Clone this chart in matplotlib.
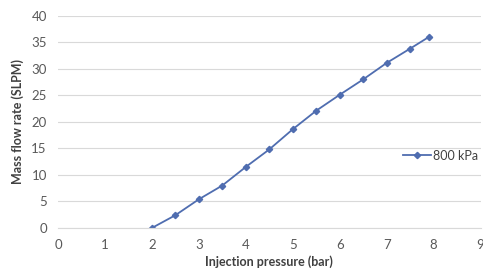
import matplotlib
matplotlib.use("Agg")
import matplotlib.pyplot as plt

# Data
pressure_bar = [2.0, 2.5, 3.0, 3.5, 4.0, 4.5, 5.0, 5.5, 6.0, 6.5, 7.0, 7.5, 7.9]
flow_slpm = [0.0, 2.4, 5.4, 8.0, 11.5, 14.8, 18.6, 22.1, 25.1, 28.0, 31.1, 33.8, 36.0]
series_label = "800 kPa"

x_ticks = list(range(0, 10))
y_ticks = list(range(0, 45, 5))

plt.rcParams['font.family'] = ['Lato', 'DejaVu Sans']

fig = plt.figure(figsize=(4.83, 2.78), dpi=100)
ax = fig.add_axes([0.12, 0.18, 0.875, 0.7635])

ax.plot(pressure_bar, flow_slpm, color='#4F6DB0', linewidth=1.3,
        marker='D', markersize=3.2, label=series_label)

ax.set_xlim(0, 9)
ax.set_ylim(0, 40)
ax.set_xticks(x_ticks)
ax.set_yticks(y_ticks)

ax.grid(True, axis='y', color='#D9D9D9', linewidth=0.8)
ax.set_axisbelow(True)
for s in ['left', 'right', 'top']:
    ax.spines[s].set_visible(False)
ax.spines['bottom'].set_color('#D9D9D9')
ax.tick_params(length=0, labelsize=9.5, colors='#595959')
ax.tick_params(axis='x', pad=8)
ax.tick_params(axis='y', pad=8)

ax.set_xlabel('Injection pressure (bar)', fontsize=9, fontweight='bold', color='#404040', labelpad=3)
ax.set_ylabel('Mass flow rate (SLPM)', fontsize=9, fontweight='bold', color='#404040', labelpad=5)

ax.legend(loc='center left', bbox_to_anchor=(0.79, 0.34), frameon=False,
          fontsize=9, handlelength=2.2, handletextpad=0.2, labelcolor='#404040')

fig.savefig('out.png', dpi=100)
